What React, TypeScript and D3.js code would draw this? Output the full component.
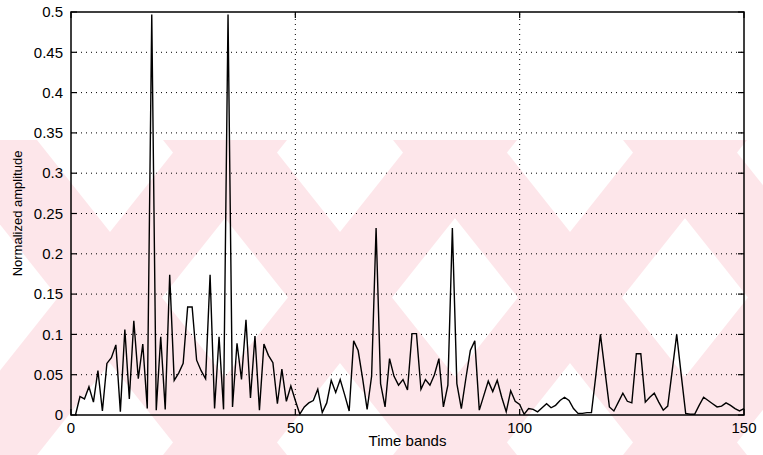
import { useEffect, useRef } from 'react';
import * as d3 from 'd3';

// normalized amplitude per time band (bands 1..150)
const amplitude = [
  0.000, 0.023, 0.020, 0.035, 0.016, 0.055, 0.005, 0.064, 0.071, 0.087,
  0.004, 0.106, 0.020, 0.117, 0.045, 0.088, 0.008, 0.497, 0.006, 0.097,
  0.007, 0.174, 0.043, 0.052, 0.064, 0.134, 0.134, 0.068, 0.055, 0.045,
  0.174, 0.008, 0.097, 0.007, 0.497, 0.010, 0.089, 0.044, 0.118, 0.021,
  0.098, 0.006, 0.088, 0.074, 0.065, 0.014, 0.057, 0.017, 0.036, 0.018,
  0.001, 0.010, 0.015, 0.018, 0.032, 0.003, 0.015, 0.043, 0.028, 0.044,
  0.025, 0.005, 0.092, 0.080, 0.045, 0.007, 0.048, 0.232, 0.039, 0.010,
  0.070, 0.048, 0.037, 0.044, 0.031, 0.101, 0.101, 0.032, 0.044, 0.037,
  0.050, 0.070, 0.010, 0.037, 0.232, 0.039, 0.008, 0.045, 0.080, 0.092,
  0.006, 0.024, 0.042, 0.029, 0.043, 0.022, 0.004, 0.030, 0.017, 0.013,
  0.001, 0.008, 0.007, 0.004, 0.009, 0.014, 0.009, 0.012, 0.018, 0.022,
  0.018, 0.008, 0.002, 0.002, 0.003, 0.003, 0.050, 0.100, 0.055, 0.010,
  0.005, 0.016, 0.027, 0.017, 0.015, 0.076, 0.076, 0.016, 0.022, 0.027,
  0.016, 0.006, 0.011, 0.055, 0.100, 0.050, 0.002, 0.001, 0.001, 0.012,
  0.022, 0.018, 0.014, 0.010, 0.011, 0.015, 0.012, 0.008, 0.005, 0.008,
];
const bands = amplitude.map((_, i) => i + 1);
const xTicks = [0, 50, 100, 150];
const yTicks = [0, 0.05, 0.1, 0.15, 0.2, 0.25, 0.3, 0.35, 0.4, 0.45, 0.5];
const yTickLabels = ['0', '0.05', '0.1', '0.15', '0.2', '0.25', '0.3', '0.35', '0.4', '0.45', '0.5'];
const watermarkCenters = [110, 340, 570, 800];

const App = () => {
  const svgRef = useRef(null);

  useEffect(() => {
    const svg = d3.select(svgRef.current);
    svg.selectAll('*').remove();

    const width = 763;
    const height = 455;
    const margin = { left: 71, right: 19, top: 12, bottom: 40 };
    const font = '"Liberation Sans", Arial, Helvetica, sans-serif';

    const x = d3.scaleLinear().domain([0, 150]).range([margin.left, width - margin.right]);
    const y = d3.scaleLinear().domain([0, 0.5]).range([height - margin.bottom, margin.top]);

    svg.append('rect').attr('width', width).attr('height', height).attr('fill', '#fff');

    // pale watermark behind the chart
    const wm = svg.append('g').attr('fill', '#fde6ea');
    const top = 140, bot = 455, half = 125, bw = 52;
    watermarkCenters.forEach(cx => {
      wm.append('polygon').attr('points', [
        [cx - half - bw, bot], [cx - half + bw, bot], [cx + half + bw, top], [cx + half - bw, top],
      ].map(p => p.join(',')).join(' '));
      wm.append('polygon').attr('points', [
        [cx - half - bw, top], [cx - half + bw, top], [cx + half + bw, bot], [cx + half - bw, bot],
      ].map(p => p.join(',')).join(' '));
    });

    // dotted grid
    const grid = svg.append('g')
      .attr('stroke', '#000')
      .attr('stroke-width', 1)
      .attr('stroke-dasharray', '1,4');
    yTicks.slice(1, -1).forEach(t => {
      grid.append('line')
        .attr('x1', x(0)).attr('x2', x(150))
        .attr('y1', y(t)).attr('y2', y(t));
    });
    xTicks.slice(1, -1).forEach(t => {
      grid.append('line')
        .attr('x1', x(t)).attr('x2', x(t))
        .attr('y1', y(0)).attr('y2', y(0.5));
    });

    // data line
    const line = d3.line().x((d, i) => x(bands[i])).y(d => y(d));
    svg.append('path')
      .datum(amplitude)
      .attr('d', line)
      .attr('fill', 'none')
      .attr('stroke', '#000')
      .attr('stroke-width', 1.4)
      .attr('stroke-linejoin', 'miter');

    // box
    svg.append('rect')
      .attr('x', x(0)).attr('y', y(0.5))
      .attr('width', x(150) - x(0)).attr('height', y(0) - y(0.5))
      .attr('fill', 'none').attr('stroke', '#000').attr('stroke-width', 1.5);

    // inward ticks
    const ticks = svg.append('g').attr('stroke', '#000').attr('stroke-width', 1.2);
    yTicks.forEach(t => {
      ticks.append('line').attr('x1', x(0)).attr('x2', x(0) + 6).attr('y1', y(t)).attr('y2', y(t));
      ticks.append('line').attr('x1', x(150)).attr('x2', x(150) - 6).attr('y1', y(t)).attr('y2', y(t));
    });
    xTicks.forEach(t => {
      ticks.append('line').attr('x1', x(t)).attr('x2', x(t)).attr('y1', y(0)).attr('y2', y(0) - 6);
      ticks.append('line').attr('x1', x(t)).attr('x2', x(t)).attr('y1', y(0.5)).attr('y2', y(0.5) + 6);
    });

    // tick labels
    svg.append('g').selectAll('text')
      .data(yTicks)
      .enter()
      .append('text')
      .attr('x', x(0) - 8)
      .attr('y', d => y(d))
      .attr('dy', '0.35em')
      .attr('text-anchor', 'end')
      .style('font-family', font)
      .style('font-size', '15px')
      .text((d, i) => yTickLabels[i]);

    svg.append('g').selectAll('text')
      .data(xTicks)
      .enter()
      .append('text')
      .attr('x', d => x(d))
      .attr('y', y(0) + 18)
      .attr('text-anchor', 'middle')
      .style('font-family', font)
      .style('font-size', '15px')
      .text(d => d);

    // axis titles
    svg.append('text')
      .attr('x', x(75))
      .attr('y', 446)
      .attr('text-anchor', 'middle')
      .style('font-family', font)
      .style('font-size', '15px')
      .text('Time bands');

    svg.append('text')
      .attr('transform', `translate(22, ${y(0.25)}) rotate(-90)`)
      .attr('text-anchor', 'middle')
      .style('font-family', font)
      .style('font-size', '13px')
      .text('Normalized amplitude');
  }, []);

  return (
    <svg ref={svgRef} width={763} height={455} style={{ position: 'absolute', left: 0, top: 0 }}></svg>
  );
};

export default App;
